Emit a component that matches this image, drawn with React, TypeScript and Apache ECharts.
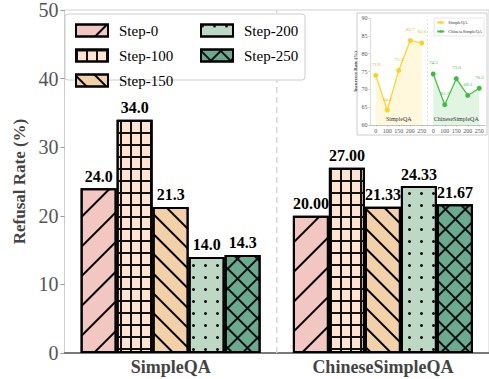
import React, { useEffect, useRef } from "react";
import * as echarts from "echarts";

const categories = ["SimpleQA", "ChineseSimpleQA"];
const stepNames = ["Step-0", "Step-100", "Step-150", "Step-200", "Step-250"];
const step0 = [24.0, 20.0];
const step100 = [34.0, 27.0];
const step150 = [21.3, 21.33];
const step200 = [14.0, 24.33];
const step250 = [14.3, 21.67];
const yMin = 0;
const yMax = 50;
const yInterval = 10;

const insetSteps = ["0", "100", "150", "200", "250"];
const insetSimpleQA = [73.9, 64.2, 75.3, 83.7, 83.0];
const insetChinese = [74.3, 65.7, 73.0, 68.3, 70.3];
const insetMin = 60;
const insetMax = 90;
const insetInterval = 5;

const FONT = "Liberation Serif";

export default function App() {
  const ref = useRef<HTMLDivElement>(null);
  useEffect(() => {
    if (!ref.current) return;
    const chart = echarts.init(ref.current, null, { renderer: "svg" });

    const fills = ["#f2c6c1", "#fde4d2", "#f2d0a8", "#bdd8c5", "#6aaa8f"];
    const decals: any[] = [
      { symbol: "rect", symbolSize: 1, color: "#000", dashArrayX: [1, 0], dashArrayY: [1.3, 19], rotation: -Math.PI / 4 },
      { symbol: "rect", symbolSize: 1, color: "#111", dashArrayX: [[1, 0], [1.4, 8]], dashArrayY: [1.4, 0, 9.5, 0], rotation: 0 },
      { symbol: "rect", symbolSize: 1, color: "#000", dashArrayX: [1, 0], dashArrayY: [1.2, 12], rotation: Math.PI / 4 },
      { symbol: "circle", symbolSize: 1, color: "#111", dashArrayX: [3, 9], dashArrayY: [3, 9], rotation: 0 },
      { symbol: "rect", symbolSize: 1, color: "#111", dashArrayX: [[1, 0], [1.3, 11.5]], dashArrayY: [1.3, 0, 11.5, 0], rotation: Math.PI / 4 },
    ];
    const stepData = [step0, step100, step150, step200, step250];

    const barSeries = stepNames.map((name, i) => ({
      type: "bar",
      name,
      xAxisIndex: 0,
      yAxisIndex: 0,
      barWidth: 36,
      barGap: "0%",
      data: stepData[i],
      itemStyle: { color: fills[i], borderColor: "#000", borderWidth: 2, decal: decals[i] },
      label: {
        show: true,
        position: "top",
        distance: 4,
        fontFamily: FONT,
        fontWeight: "bold",
        fontSize: 16,
        color: "#000",
        formatter: (p: any) => (p.dataIndex === 0 ? p.value.toFixed(1) : p.value.toFixed(2)),
      },
      z: 2,
    }));

    const insetCats = [...insetSteps.map((s) => "a" + s), ...insetSteps.map((s) => "b" + s)];
    const blank = insetSteps.map(() => "-");

    const lineSeries = [
      {
        type: "line",
        name: "SimpleQA",
        xAxisIndex: 1,
        yAxisIndex: 1,
        data: [...insetSimpleQA, ...blank],
        color: "#ffd21f",
        lineStyle: { width: 1.2, color: "#ffd21f" },
        symbol: "circle",
        symbolSize: 5,
        itemStyle: { color: "#ffd21f" },
        areaStyle: { color: "rgba(255,220,90,0.3)", origin: "start" },
        label: { show: true, position: "top", distance: 6, fontSize: 5, color: "#e8b800", fontFamily: FONT, formatter: (p: any) => Number(p.value).toFixed(1) },
        z: 5,
      },
      {
        type: "line",
        name: "ChineseSimpleQA",
        xAxisIndex: 1,
        yAxisIndex: 1,
        data: [...blank, ...insetChinese],
        color: "#3cbf3c",
        lineStyle: { width: 1.2, color: "#3cbf3c" },
        symbol: "circle",
        symbolSize: 5,
        itemStyle: { color: "#3cbf3c" },
        areaStyle: { color: "rgba(120,210,120,0.3)", origin: "start" },
        label: { show: true, position: "top", distance: 6, fontSize: 5, color: "#3cbf3c", fontFamily: FONT, formatter: (p: any) => Number(p.value).toFixed(1) },
        z: 5,
      },
    ];

    const option: any = {
      animation: false,
      backgroundColor: "#fff",
      textStyle: { fontFamily: FONT },
      grid: [
        { left: 64.5, top: 10, width: 430, height: 343, show: true, borderColor: "#d0d0d0", borderWidth: 1, backgroundColor: "transparent" },
        { left: 370, top: 18, right: 4, bottom: 254, show: false },
      ],
      legend: [
        {
          data: stepNames.slice(0, 3),
          left: 70,
          top: 18,
          orient: "vertical",
          icon: "rect",
          itemWidth: 32,
          itemHeight: 12,
          itemGap: 10,
          textStyle: { fontFamily: FONT, fontSize: 15, color: "#000", padding: [0, 0, 0, 6] },
          z: 6,
        },
        {
          data: stepNames.slice(3),
          left: 195,
          top: 18,
          orient: "vertical",
          icon: "rect",
          itemWidth: 32,
          itemHeight: 12,
          itemGap: 10,
          textStyle: { fontFamily: FONT, fontSize: 15, color: "#000", padding: [0, 0, 0, 6] },
          z: 6,
        },
        {
          data: ["SimpleQA", "ChineseSimpleQA"],
          right: 5,
          top: 18,
          orient: "vertical",
          itemWidth: 7,
          itemHeight: 3,
          itemGap: 4,
          padding: [2, 2, 2, 2],
          borderColor: "#ccc",
          borderWidth: 0.5,
          backgroundColor: "#fff",
          textStyle: { fontFamily: FONT, fontSize: 4.5, color: "#333", padding: [0, 0, 0, -1] },
          z: 8,
        },
      ],
      xAxis: [
        {
          type: "category",
          gridIndex: 0,
          data: categories,
          axisLine: { lineStyle: { color: "#555", width: 1.5 } },
          axisTick: { show: false },
          axisLabel: { fontFamily: FONT, fontWeight: "bold", fontSize: 18, color: "#444", margin: 5 },
        },
        {
          type: "category",
          gridIndex: 1,
          position: "bottom",
          data: insetCats,
          boundaryGap: true,
          axisLine: { lineStyle: { color: "#999", width: 0.6 } },
          axisTick: { show: true, alignWithLabel: true, length: 1.5, lineStyle: { color: "#999", width: 0.5 } },
          axisLabel: { interval: 0, fontSize: 6, color: "#555", margin: 2.5, fontFamily: FONT, formatter: (v: string) => v.slice(1) },
          z: 7,
        },
      ],
      yAxis: [
        {
          type: "value",
          gridIndex: 0,
          min: yMin,
          max: yMax,
          interval: yInterval,
          name: "Refusal Rate (%)",
          nameLocation: "middle",
          nameGap: 36,
          nameTextStyle: { fontFamily: FONT, fontWeight: "bold", fontSize: 17, color: "#444" },
          axisLine: { show: true, lineStyle: { color: "#ccc", width: 1 } },
          axisTick: { show: true, length: 4, lineStyle: { color: "#999" } },
          axisLabel: { fontFamily: FONT, fontSize: 20, color: "#555", margin: 6 },
          splitLine: { show: false },
        },
        {
          type: "value",
          gridIndex: 1,
          min: insetMin,
          max: insetMax,
          interval: insetInterval,
          name: "Incorrect Rate (%)",
          nameLocation: "middle",
          nameGap: 10,
          nameTextStyle: { fontFamily: FONT, fontWeight: "bold", fontSize: 5, color: "#444" },
          axisLine: { show: true, lineStyle: { color: "#bbb", width: 0.5 } },
          axisTick: { show: true, length: 1.5, lineStyle: { color: "#999", width: 0.5 } },
          axisLabel: { fontFamily: FONT, fontSize: 6, color: "#555", margin: 2.5 },
          splitLine: { show: false },
          z: 7,
        },
      ],
      series: [...barSeries, ...lineSeries],
    };
    chart.setOption(option);

    const px = (axis: number, v: number) => chart.convertToPixel({ xAxisIndex: axis }, v) as number;
    const py = (axis: number, v: number) => chart.convertToPixel({ yAxisIndex: axis }, v) as number;
    const mainSep = (px(0, 0) + px(0, 1)) / 2;
    const insetSep = (px(1, 4) + px(1, 5)) / 2;
    const groupY = py(1, insetMin) - 6;
    chart.setOption({
      graphic: [
        {
          type: "line",
          z: 1,
          shape: { x1: mainSep, y1: py(0, yMin), x2: mainSep, y2: py(0, yMax) },
          style: { stroke: "#d8d8d8", lineWidth: 1.5, lineDash: [6, 4] },
        },
        {
          type: "rect",
          z: 3,
          shape: { x: 65, y: 14, width: 240, height: 66, r: 3 },
          style: { fill: "#fff", stroke: "#ccc", lineWidth: 1 },
        },
        {
          type: "rect",
          z: 3,
          shape: { x: 357, y: 13, width: 130, height: 122 },
          style: { fill: "#fff", stroke: "#ccc", lineWidth: 1 },
        },
        {
          type: "line",
          z: 4,
          shape: { x1: insetSep, y1: py(1, insetMin), x2: insetSep, y2: py(1, insetMax) },
          style: { stroke: "#ccc", lineWidth: 0.6, lineDash: [2, 2] },
        },
        {
          type: "text",
          z: 9,
          x: px(1, 2),
          y: groupY,
          style: { text: categories[0], fontFamily: FONT, fontSize: 6, fill: "#333", align: "center", verticalAlign: "middle" },
        },
        {
          type: "text",
          z: 9,
          x: px(1, 7),
          y: groupY,
          style: { text: categories[1], fontFamily: FONT, fontSize: 6, fill: "#333", align: "center", verticalAlign: "middle" },
        },
      ],
    });

    return () => chart.dispose();
  }, []);
  return <div ref={ref} style={{ position: "fixed", left: 0, top: 0, width: 489, height: 379 }} />;
}
